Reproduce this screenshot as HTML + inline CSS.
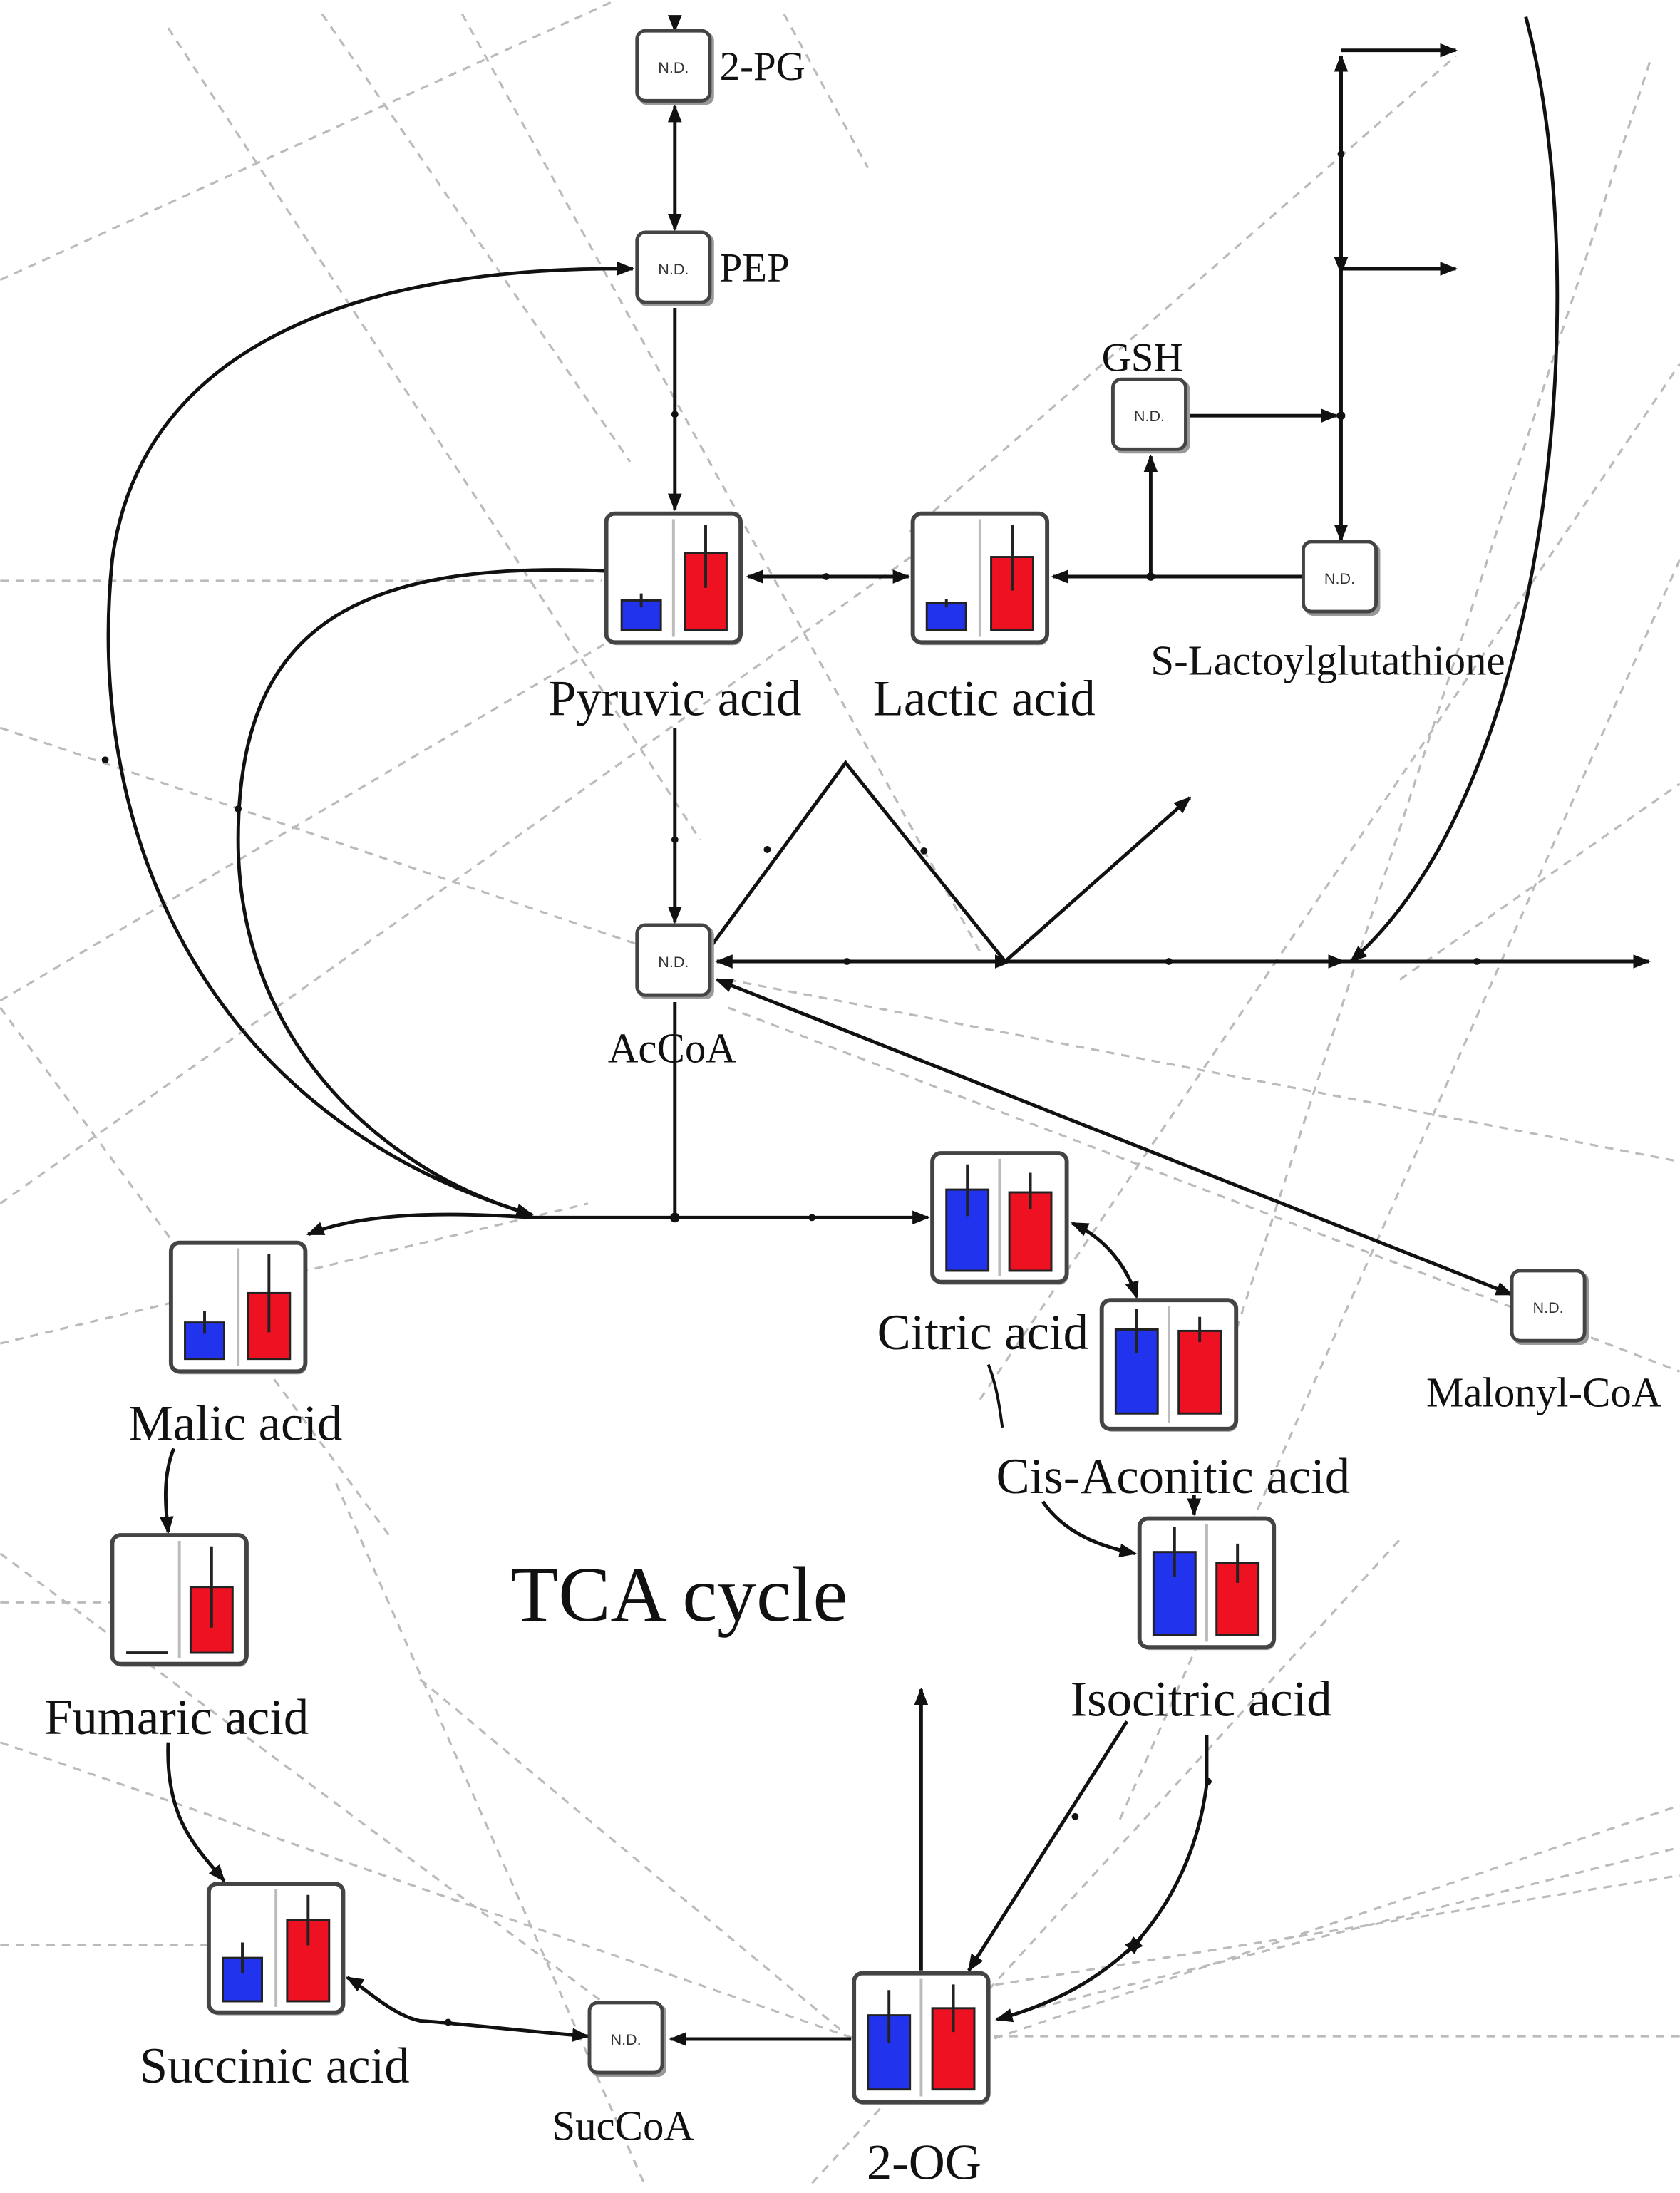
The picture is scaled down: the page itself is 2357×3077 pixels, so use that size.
<!DOCTYPE html>
<html><head><meta charset="utf-8"><style>
html,body{margin:0;padding:0;background:#fff;}
svg{display:block;}
text{font-family:"Liberation Serif",serif;fill:#111;}
.nd{font-family:"Liberation Sans",sans-serif;font-size:11px;fill:#333;}
</style></head><body>
<svg width="2357" height="3077" viewBox="0 0 1200 1567" xmlns="http://www.w3.org/2000/svg">
<defs>
<marker id="a" viewBox="0 0 10 10" refX="9" refY="5" markerWidth="5" markerHeight="5" orient="auto-start-reverse"><path d="M0,1 L10,5 L0,9 z" fill="#111"/></marker>
<g id="ndbox"><rect x="-26" y="-25" width="54" height="52" rx="6" fill="#999"/><rect x="-27" y="-26" width="52" height="50" rx="6" fill="#fff" stroke="#444" stroke-width="2.5"/><text class="nd" x="-1" y="4" text-anchor="middle">N.D.</text></g>
<g id="cbox"><rect x="1" y="2" width="96" height="92" rx="6" fill="#999"/><rect x="0" y="0" width="96" height="92" rx="6" fill="#fff" stroke="#444" stroke-width="3"/><line x1="48" y1="4" x2="48" y2="88" stroke="#bbb" stroke-width="2"/></g>
</defs>
<g stroke="#bbb" stroke-width="1.6" stroke-dasharray="6,5" fill="none">
<line x1="0" y1="200" x2="440" y2="0"/>
<line x1="0" y1="415" x2="430" y2="415"/>
<line x1="0" y1="520" x2="500" y2="690"/>
<line x1="0" y1="715" x2="500" y2="420"/>
<line x1="0" y1="860" x2="690" y2="370"/>
<line x1="0" y1="960" x2="420" y2="860"/>
<line x1="0" y1="720" x2="280" y2="1100"/>
<line x1="0" y1="1110" x2="470" y2="1460"/>
<line x1="0" y1="1245" x2="620" y2="1460"/>
<line x1="0" y1="1390" x2="150" y2="1390"/>
<line x1="0" y1="1145" x2="80" y2="1145"/>
<line x1="120" y1="20" x2="500" y2="600"/>
<line x1="230" y1="10" x2="450" y2="330"/>
<line x1="330" y1="10" x2="700" y2="680"/>
<line x1="560" y1="10" x2="620" y2="120"/>
<line x1="240" y1="1060" x2="460" y2="1560"/>
<line x1="300" y1="1200" x2="600" y2="1450"/>
<line x1="580" y1="1560" x2="1000" y2="1100"/>
<line x1="700" y1="1460" x2="1200" y2="1290"/>
<line x1="720" y1="1440" x2="1200" y2="1320"/>
<line x1="710" y1="1455" x2="1200" y2="1455"/>
<line x1="700" y1="1420" x2="1200" y2="1340"/>
<line x1="520" y1="700" x2="1200" y2="830"/>
<line x1="520" y1="720" x2="1200" y2="980"/>
<line x1="1000" y1="700" x2="1200" y2="560"/>
<line x1="800" y1="1300" x2="1200" y2="400"/>
<line x1="880" y1="960" x2="1180" y2="40"/>
<line x1="650" y1="380" x2="1040" y2="40"/>
<line x1="700" y1="1000" x2="1200" y2="260"/>
</g>
<g stroke="#111" stroke-width="2.5" fill="none">
<line x1="482" y1="12" x2="482" y2="22" marker-end="url(#a)"/>
<line x1="482" y1="76" x2="482" y2="164" marker-start="url(#a)" marker-end="url(#a)"/>
<line x1="482" y1="220" x2="482" y2="364" marker-end="url(#a)"/>
<line x1="534" y1="412" x2="649" y2="412" marker-start="url(#a)" marker-end="url(#a)"/>
<line x1="930" y1="412" x2="752" y2="412" marker-end="url(#a)"/>
<line x1="822" y1="412" x2="822" y2="326" marker-end="url(#a)"/>
<line x1="850" y1="297" x2="955" y2="297" marker-end="url(#a)"/>
<line x1="958" y1="40" x2="958" y2="386" marker-end="url(#a)"/>
<line x1="958" y1="190" x2="958" y2="40" marker-end="url(#a)"/>
<line x1="958" y1="190" x2="958" y2="195" marker-end="url(#a)"/>
<line x1="958" y1="36" x2="1040" y2="36" marker-end="url(#a)"/>
<line x1="958" y1="192" x2="1040" y2="192" marker-end="url(#a)"/>
<path d="M1090,12 C1140,200 1110,560 965,687" marker-end="url(#a)"/>
<line x1="482" y1="520" x2="482" y2="659" marker-end="url(#a)"/>
<line x1="512" y1="687" x2="1178" y2="687" marker-start="url(#a)" marker-end="url(#a)"/>
<line x1="720" y1="687" x2="722" y2="687" marker-end="url(#a)"/>
<line x1="945" y1="687" x2="960" y2="687" marker-end="url(#a)"/>
<path d="M505,680 L604,545 L718,687"/>
<line x1="718" y1="687" x2="850" y2="570" marker-end="url(#a)"/>
<line x1="512" y1="700" x2="1080" y2="925" marker-start="url(#a)" marker-end="url(#a)"/>
<line x1="482" y1="716" x2="482" y2="870"/>
<line x1="380" y1="870" x2="663" y2="870" marker-end="url(#a)"/>
<path d="M380,870 C320,866 260,866 220,882" marker-end="url(#a)"/>
<path d="M380,868 C150,800 60,600 80,400 C100,250 250,190 452,192" marker-end="url(#a)"/>
<path d="M433,408 C250,400 170,450 170,600 C170,750 280,840 380,868" marker-end="url(#a)"/>
<path d="M766,874 C790,885 805,905 812,927" marker-start="url(#a)" marker-end="url(#a)"/>
<path d="M706,975 C712,990 714,1005 716,1020" stroke-width="2"/>
<path d="M745,1073 C760,1095 785,1105 811,1110" marker-end="url(#a)"/>
<line x1="853" y1="1068" x2="853" y2="1082" marker-end="url(#a)"/>
<path d="M124,1035 C116,1055 118,1075 120,1095" marker-end="url(#a)"/>
<path d="M120,1245 C118,1300 140,1320 160,1344" marker-end="url(#a)"/>
<path d="M420,1455 C360,1450 320,1445 300,1444 C280,1440 260,1420 248,1413" marker-start="url(#a)" marker-end="url(#a)"/>
<line x1="608" y1="1457" x2="479" y2="1457" marker-end="url(#a)"/>
<line x1="658" y1="1408" x2="658" y2="1207" marker-end="url(#a)"/>
<line x1="805" y1="1230" x2="692" y2="1408" marker-end="url(#a)"/>
<path d="M862,1240 L862,1275 C855,1330 830,1370 805,1395" marker-end="url(#a)"/>
<path d="M815,1385 C790,1410 760,1430 712,1443" marker-start="url(#a)" marker-end="url(#a)"/>
</g>
<g fill="#111">
<circle cx="482" cy="296" r="2.5"/><circle cx="590" cy="412" r="2.5"/><circle cx="822" cy="412" r="3"/><circle cx="958" cy="297" r="3"/><circle cx="958" cy="110" r="2.5"/>
<circle cx="482" cy="600" r="2.5"/><circle cx="482" cy="870" r="3.5"/><circle cx="580" cy="870" r="2.5"/><circle cx="75" cy="543" r="2.5"/><circle cx="170" cy="578" r="2.5"/>
<circle cx="660" cy="608" r="2.5"/><circle cx="548" cy="607" r="2.5"/><circle cx="605" cy="687" r="2.5"/><circle cx="835" cy="687" r="2.5"/><circle cx="1055" cy="687" r="2.5"/>
<circle cx="863" cy="1273" r="2.5"/><circle cx="768" cy="1298" r="2.5"/><circle cx="320" cy="1445" r="2.5"/>
</g>
<use href="#ndbox" x="482" y="48"/>
<use href="#ndbox" x="482" y="192"/>
<use href="#ndbox" x="822" y="297"/>
<use href="#ndbox" x="958" y="413"/>
<use href="#ndbox" x="482" y="687"/>
<use href="#ndbox" x="1107" y="934"/>
<use href="#ndbox" x="448" y="1457"/>
<g transform="translate(433,367)"><use href="#cbox"/><rect x="11" y="62" width="28" height="21" fill="#2233ee" stroke="#222" stroke-width="1.5"/><rect x="56" y="28" width="30" height="55" fill="#ee1122" stroke="#222" stroke-width="1.5"/><path d="M25,57 V67 M71,8 V53" stroke="#222" stroke-width="2"/></g>
<g transform="translate(652,367)"><use href="#cbox"/><rect x="10" y="64" width="28" height="19" fill="#2233ee" stroke="#222" stroke-width="1.5"/><rect x="56" y="31" width="30" height="52" fill="#ee1122" stroke="#222" stroke-width="1.5"/><path d="M24,61 V67 M71,8 V55" stroke="#222" stroke-width="2"/></g>
<g transform="translate(666,824)"><use href="#cbox"/><rect x="10" y="26" width="30" height="58" fill="#2233ee" stroke="#222" stroke-width="1.5"/><rect x="55" y="28" width="30" height="56" fill="#ee1122" stroke="#222" stroke-width="1.5"/><path d="M25,8 V45 M70,14 V40" stroke="#222" stroke-width="2"/></g>
<g transform="translate(787,929)"><use href="#cbox"/><rect x="10" y="21" width="30" height="60" fill="#2233ee" stroke="#222" stroke-width="1.5"/><rect x="55" y="22" width="30" height="59" fill="#ee1122" stroke="#222" stroke-width="1.5"/><path d="M25,6 V38 M70,12 V30" stroke="#222" stroke-width="2"/></g>
<g transform="translate(122,888)"><use href="#cbox"/><rect x="10" y="57" width="28" height="26" fill="#2233ee" stroke="#222" stroke-width="1.5"/><rect x="55" y="36" width="30" height="47" fill="#ee1122" stroke="#222" stroke-width="1.5"/><path d="M24,49 V65 M70,8 V64" stroke="#222" stroke-width="2"/></g>
<g transform="translate(80,1097)"><use href="#cbox"/><line x1="10" y1="84" x2="40" y2="84" stroke="#222" stroke-width="2"/><rect x="56" y="37" width="30" height="47" fill="#ee1122" stroke="#222" stroke-width="1.5"/><path d="M71,8 V66" stroke="#222" stroke-width="2"/></g>
<g transform="translate(814,1085)"><use href="#cbox"/><rect x="10" y="24" width="30" height="59" fill="#2233ee" stroke="#222" stroke-width="1.5"/><rect x="55" y="32" width="30" height="51" fill="#ee1122" stroke="#222" stroke-width="1.5"/><path d="M25,6 V42 M70,18 V46" stroke="#222" stroke-width="2"/></g>
<g transform="translate(149,1346)"><use href="#cbox"/><rect x="10" y="53" width="28" height="31" fill="#2233ee" stroke="#222" stroke-width="1.5"/><rect x="56" y="26" width="30" height="58" fill="#ee1122" stroke="#222" stroke-width="1.5"/><path d="M24,42 V64 M71,8 V44" stroke="#222" stroke-width="2"/></g>
<g transform="translate(610,1410)"><use href="#cbox"/><rect x="10" y="30" width="30" height="53" fill="#2233ee" stroke="#222" stroke-width="1.5"/><rect x="56" y="25" width="30" height="58" fill="#ee1122" stroke="#222" stroke-width="1.5"/><path d="M25,12 V50 M71,8 V42" stroke="#222" stroke-width="2"/></g>
<g font-size="29">
<text x="514" y="57">2-PG</text>
<text x="514" y="201">PEP</text>
<text x="787" y="265">GSH</text>
<text x="822" y="482" font-size="30">S-Lactoylglutathione</text>
</g>
<g font-size="36" text-anchor="middle">
<text x="482" y="511">Pyruvic acid</text>
<text x="703" y="511">Lactic acid</text>
<text x="702" y="964">Citric acid</text>
<text x="838" y="1067">Cis-Aconitic acid</text>
<text x="168" y="1029">Malic acid</text>
<text x="126" y="1239">Fumaric acid</text>
<text x="858" y="1226">Isocitric acid</text>
<text x="196" y="1488">Succinic acid</text>
<text x="660" y="1557">2-OG</text>
</g>
<g font-size="30" text-anchor="middle">
<text x="480" y="759">AcCoA</text>
<text x="1103" y="1005">Malonyl-CoA</text>
<text x="445" y="1529">SucCoA</text>
</g>
<text x="485" y="1158" font-size="56" text-anchor="middle">TCA cycle</text>
</svg>
</body></html>
